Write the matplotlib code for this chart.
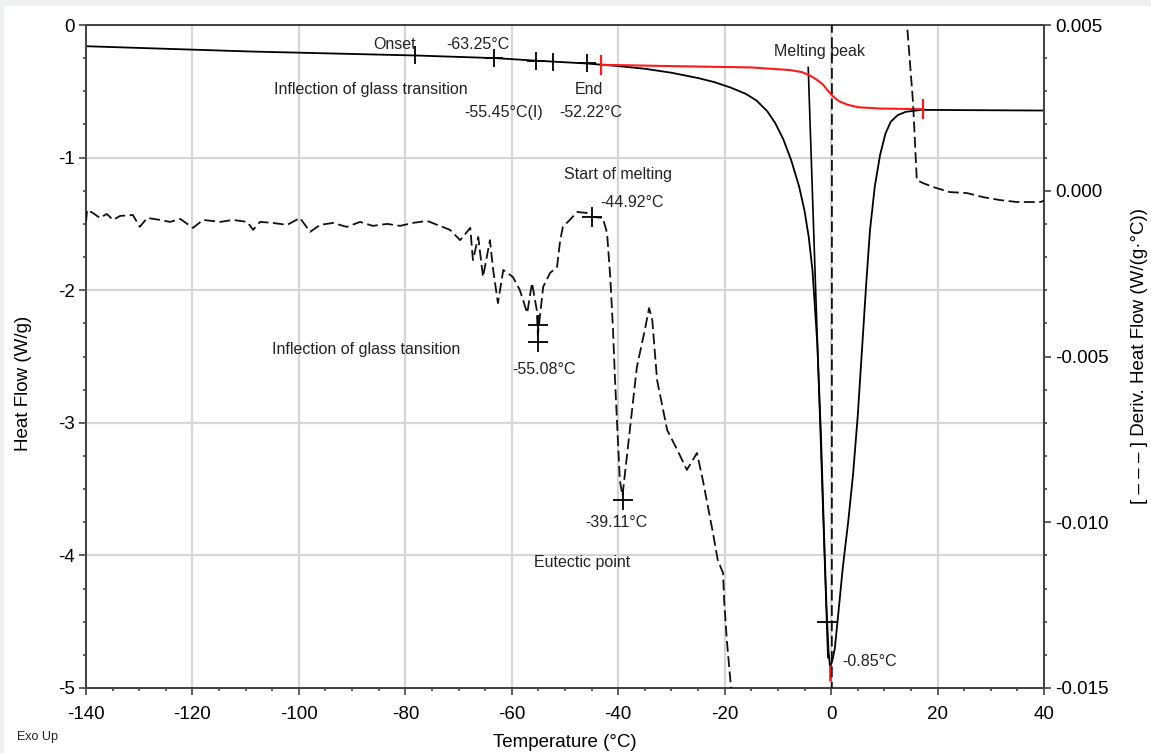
import matplotlib
matplotlib.use("Agg")
import matplotlib.pyplot as plt
import numpy as np
from matplotlib.ticker import MultipleLocator, FormatStrFormatter

plt.rcParams['font.family'] = ['Liberation Sans', 'DejaVu Sans']
plt.rcParams['axes.unicode_minus'] = False

# heat flow (W/g), solid black
hf_x = [-140, -109, -78, -63, -55, -46, -43, -40, -35, -30, -25, -22, -19, -16, -14, -12, -10.5, -9,
        -7.5, -6, -5, -4.2, -3.5, -2.6, -1.9, -1.4, -0.9, -0.5, -0.2, 0.2, 0.7, 1.2, 2.2, 3.2, 4.1,
        5.0, 5.8, 6.6, 7.3, 8.2, 9.2, 10.2, 11.2, 12.5, 14, 16, 17, 25, 40]
hf_y = [-0.16, -0.20, -0.23, -0.25, -0.27, -0.29, -0.30, -0.31, -0.33, -0.36, -0.40, -0.43, -0.47,
        -0.52, -0.57, -0.65, -0.74, -0.86, -1.02, -1.22, -1.40, -1.60, -1.85, -2.40, -3.10, -3.75,
        -4.35, -4.72, -4.84, -4.80, -4.70, -4.50, -4.09, -3.75, -3.40, -2.95, -2.45, -1.95, -1.55,
        -1.22, -0.98, -0.82, -0.73, -0.68, -0.655, -0.645, -0.64, -0.642, -0.645]

# integration baseline (red)
base_x = [-43.2, -30, -15, -7.7, -5.5, -4, -2.8, -1.5, -0.5, 0.4, 1.5, 3, 5, 9.2, 17.3]
base_y = [-0.30, -0.31, -0.32, -0.34, -0.355, -0.38, -0.41, -0.45, -0.50, -0.54, -0.575, -0.60, -0.62, -0.63, -0.635]

# derivative heat flow (x1e-3 W/(g*C)), dashed
deriv_x = [-140, -139.8, -138.7, -137.4, -136.1, -134.9, -133.6, -131.2, -129.9, -128.5, -126.1, -124.2,
           -122.3, -119.9, -118.0, -114.8, -112.4, -109.7, -108.6, -107.3, -104.9, -102.2, -99.8, -97.9,
           -96.0, -93.6, -91.0, -88.5, -86.1, -83.4, -81.0, -78.6, -75.9, -73.5, -71.6, -69.7, -67.8,
           -67.3, -66.3, -65.4, -64.1, -63.5, -62.6, -61.6, -59.8, -58.5, -57.1, -56.2, -55.3, -55.1,
           -54.1, -52.8, -51.5, -50.9, -50.4, -49.1, -47.7, -45.9, -44.7, -42.9, -42.1, -41.5, -41.0,
           -40.6, -39.7, -39.2, -38.3, -36.5, -35.0, -34.2, -33.6, -32.7, -30.8, -28.9, -27.1, -25.2,
           -24.1, -22.2, -21.3, -20.3, -20.1, -19.6, -18.8, -18.3, 0.1, 0.2, 14.0, 14.3, 15.4, 16.1,
           17.3, 19.2, 22.3, 25.5, 28.5, 31.7, 34.9, 39.3, 40]
deriv_y = [-0.94, -0.58, -0.67, -0.82, -0.70, -0.88, -0.76, -0.73, -1.09, -0.82, -0.88, -0.94,
           -0.85, -1.12, -0.88, -0.94, -0.88, -0.94, -1.18, -0.94, -0.97, -1.03, -0.82, -1.24,
           -1.03, -0.97, -1.09, -0.94, -1.06, -1.00, -1.06, -0.97, -0.91, -1.06, -1.18, -1.49, -1.12,
           -2.09, -1.40, -2.60, -1.49, -2.39, -3.39, -2.39, -2.60, -2.99, -3.69, -2.78, -3.60, -4.35,
           -2.90, -2.48, -2.30, -1.49, -1.09, -0.88, -0.64, -0.67, -0.79, -0.82, -1.27, -2.60, -4.11,
           -5.71, -8.73, -9.2, -7.91, -5.32, -4.20, -3.54, -3.90, -5.71, -7.22, -7.82, -8.42, -7.91,
           -8.73, -10.32, -11.14, -11.53, -12.35, -13.55, -15.0, -17, -60, 60, 6.0, 4.94, 2.65, 0.32,
           0.23, 0.11, -0.04, -0.07, -0.19, -0.28, -0.34, -0.34, -0.30]
deriv_y = np.array(deriv_y) * 1e-3

# analysis marks on the heat flow curve
bar_marks = [-78.1, -52.22]
plus_marks = [-63.25, -55.45, -45.9]
red_marks = [-43.2, 17.3]

# peak marks on derivative curve
dplus_x = [-44.92, -55.08, -55.08, -39.11]
dplus_y = np.array([-0.79, -4.05, -4.56, -9.33]) * 1e-3

peak_line_x = [-4.3, -0.6]
peak_line_y = [-0.32, -4.77]
peak_x = -0.2

labels = [
    ("Onset", -82.1, -0.15, "center"),
    ("-63.25°C", -66.3, -0.15, "center"),
    ("Inflection of glass transition", -86.4, -0.49, "center"),
    ("End", -45.5, -0.49, "center"),
    ("-55.45°C(I)", -61.6, -0.66, "center"),
    ("-52.22°C", -45.1, -0.66, "center"),
    ("Melting peak", -2.1, -0.20, "center"),
    ("Start of melting", -40.0, -1.13, "center"),
    ("-44.92°C", -37.4, -1.34, "center"),
    ("Inflection of glass tansition", -87.4, -2.45, "center"),
    ("-55.08°C", -53.9, -2.60, "center"),
    ("-39.11°C", -40.4, -3.75, "center"),
    ("Eutectic point", -46.8, -4.05, "center"),
    ("-0.85°C", 2.0, -4.80, "left"),
]

fig = plt.figure(figsize=(11.51, 7.53), dpi=100, facecolor='#eef0f2')
fig.patches.append(plt.Rectangle((4 / 1151, 0), 1, 1 - 6 / 753, transform=fig.transFigure,
                                 facecolor='white', edgecolor='none', zorder=-10))
ax = fig.add_axes([86 / 1151, 1 - 688 / 753, 958 / 1151, 663 / 753])
ax2 = ax.twinx()

ax.set_xlim(-140, 40)
ax.set_ylim(-5, 0)
ax2.set_ylim(-0.015, 0.005)
ax.xaxis.set_major_locator(MultipleLocator(20))
ax.xaxis.set_minor_locator(MultipleLocator(5))
ax.yaxis.set_major_locator(MultipleLocator(1))
ax.yaxis.set_minor_locator(MultipleLocator(0.25))
ax2.yaxis.set_major_locator(MultipleLocator(0.005))
ax2.yaxis.set_minor_locator(MultipleLocator(0.001))
ax2.yaxis.set_major_formatter(FormatStrFormatter('%.3f'))
ax.yaxis.set_major_formatter(FormatStrFormatter('%d'))

ax.grid(True, which='major', color='#d6d6d6', lw=1.6)
ax.set_axisbelow(True)
for a in (ax, ax2):
    for s in a.spines.values():
        s.set_color('#444444')
        s.set_linewidth(1.4)
    a.tick_params(which='major', direction='out', length=5, width=1.2, color='#444444',
                  labelsize=13.5, pad=3)
    a.tick_params(which='minor', direction='out', length=2.5, width=1.2, color='#444444')
ax.tick_params(axis='x', which='major', pad=8)

ax.plot(hf_x, hf_y, color='black', lw=1.3, zorder=3)
ax.plot(base_x, base_y, color='#ff1a1a', lw=1.5, zorder=4)
ax.plot(peak_line_x, peak_line_y, color='black', lw=1.2, zorder=3)
ax.plot(bar_marks, np.interp(bar_marks, hf_x, hf_y), ls='none', marker='|', ms=13,
        mew=1.3, color='black', zorder=5)
ax.plot(plus_marks, np.interp(plus_marks, hf_x, hf_y), ls='none', marker='+', ms=13,
        mew=1.3, color='black', zorder=5)
ax.plot(red_marks, np.interp(red_marks, base_x, base_y), ls='none', marker='|', ms=14,
        mew=1.6, color='#ff1a1a', zorder=5)
ax.plot([-0.85], [-4.5], ls='none', marker='_', ms=14, mew=1.3, color='black', zorder=5)
ax.plot([peak_x], [np.interp(peak_x, hf_x, hf_y) - 0.05], ls='none', marker='|', ms=12,
        mew=2, color='#ff1a1a', zorder=5)

ax2.plot(deriv_x, deriv_y, color='#111111', lw=1.3, ls=(0, (6, 2.5)), zorder=3)
ax2.plot(dplus_x, dplus_y, ls='none', marker='+', ms=14, mew=1.3, color='black', zorder=5)

for txt, x, y, ha in labels:
    ax.text(x, y, txt, ha=ha, va='center', fontsize=11.5, color='#222222', zorder=6)

ax.set_xlabel("Temperature (°C)", fontsize=13.5, labelpad=8)
ax.set_ylabel("Heat Flow (W/g)", fontsize=13.5)
ax.yaxis.set_label_coords(-0.056, 0.46)
ax2.set_ylabel("[ – – – ] Deriv. Heat Flow (W/(g·°C))", fontsize=13.5, labelpad=16)
fig.text(17 / 1151, 1 - 737 / 753, "Exo Up", fontsize=9, va='center', color='#222222')

fig.savefig("out.png", dpi=100, facecolor=fig.get_facecolor())
